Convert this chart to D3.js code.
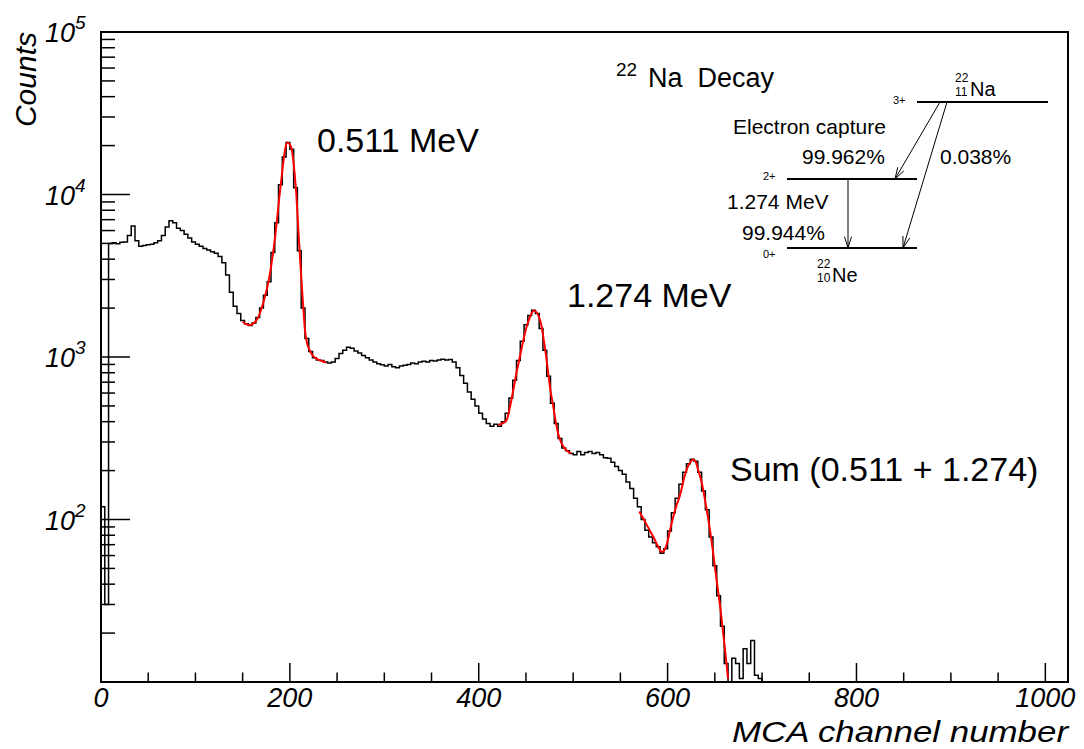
<!DOCTYPE html>
<html><head><meta charset="utf-8">
<script src="https://cdn.jsdelivr.net/npm/d3@7"></script>
<style>
body{margin:0;background:#fff}
svg{display:block}
text{font-family:"Liberation Sans",Arial,Helvetica,sans-serif;fill:#000}
</style></head>
<body><svg id="c" width="1084" height="749"></svg>
<script>
// ---------- data ----------
const binWidth = 4; // channels per bin, bins start at channel 0
const counts = [
  120, 30, 5000, 5050, 4980, 5080, 5100, 5600, 6400, 5200,
  4800, 4850, 4900, 4950, 5050, 5200, 5600, 6300, 6900, 6700,
  6200, 6000, 5700, 5400, 5100, 4950, 4800, 4650, 4550, 4450,
  4350, 4150, 3800, 3200, 2500, 2050, 1850, 1680, 1600, 1560,
  1620, 1750, 2000, 2400, 2900, 4400, 6700, 11500, 17000, 20900,
  19000, 11000, 4500, 2000, 1300, 1080, 990, 960, 950, 930,
  920, 930, 980, 1050, 1100, 1150, 1130, 1090, 1060, 1020,
  990, 960, 930, 910, 895, 880, 900, 870, 860, 880,
  890, 900, 920, 910, 930, 940, 930, 950, 945, 960,
  970, 960, 965, 930, 860, 770, 690, 610, 550, 500,
  450, 415, 390, 375, 385, 375, 400, 450, 560, 720,
  950, 1250, 1580, 1800, 1940, 1850, 1500, 1100, 760, 520,
  390, 315, 275, 265, 255, 250, 262, 250, 258, 262,
  255, 258, 250, 240, 238, 225, 212, 200, 190, 170,
  155, 135, 120, 100, 86, 78, 72, 68, 62, 66,
  85, 110, 135, 165, 195, 220, 235, 228, 195, 150,
  115, 78, 52, 34, 22, 13, 0, 14, 13, 10.5,
  16, 13, 18, 11, 10.5
];
// fitted curves (channel, counts)
const fit511Ch  = [150, 154, 158, 162, 166, 170, 174, 177, 181, 184, 187, 189, 192, 195, 197.5, 200, 202, 205, 207, 209, 211.6, 214, 216, 218, 221, 225, 230, 234, 238];
const fit511Val = [1650, 1590, 1575, 1620, 1730, 1990, 2400, 2840, 3900, 5250, 7600, 9800, 14000, 19000, 20900, 20300, 19000, 13500, 9700, 6000, 3430, 2100, 1470, 1230, 1100, 1010, 965, 945, 925];
const fit1274Ch  = [420.7, 425, 429.5, 433, 436.6, 440, 443.6, 447, 450.7, 454, 456, 458.5, 461, 463, 466, 468.3, 471, 473.6, 476, 479, 481.5, 484, 487, 491, 494.5, 498];
const fit1274Val = [382, 390, 409, 490, 626, 800, 1004, 1250, 1535, 1750, 1857, 1930, 1890, 1812, 1600, 1333, 1050, 794, 620, 494, 400, 339, 300, 274, 262, 255];
const fitSumCh  = [570, 574, 580, 585, 590, 594, 599, 603, 606, 610, 613, 617, 620, 624, 627, 630, 632, 636, 640, 644, 648, 652, 656, 660, 664];
const fitSumVal = [112, 102, 88, 78, 68, 63, 70, 88, 104, 125, 140, 175, 202, 225, 234, 225, 205, 170, 128, 93, 64, 42, 28, 17.5, 10.5];

const xMajorTicks = [0, 200, 400, 600, 800, 1000];
const xMinorStep = 50;
const yLabelExps = [2, 3, 4, 5];

// ---------- scales ----------
const L = 101, R = 1068, T = 32, B = 682;
const x = d3.scaleLinear().domain([0, 1024]).range([L, R]);
const y = d3.scaleLog().domain([10, 1e5]).range([B, T]);
const svg = d3.select('#c');

svg.append('defs').append('clipPath').attr('id', 'pc')
  .append('rect').attr('x', L).attr('y', T).attr('width', R - L).attr('height', B - T);

// ---------- histogram ----------
const yv = v => (v > 10 ? y(v) : B);
let p = `M${x(0)},${B}`;
counts.forEach((v, i) => {
  p += `L${x(i * binWidth)},${yv(v)}L${x((i + 1) * binWidth)},${yv(v)}`;
});
p += `L${x(counts.length * binWidth)},${B}`;
svg.append('path').attr('d', p).attr('fill', 'none').attr('stroke', '#000')
  .attr('stroke-width', 1.5).attr('clip-path', 'url(#pc)');

// ---------- fits ----------
const line = d3.line().x(d => x(d[0])).y(d => y(d[1])).curve(d3.curveMonotoneX);
[[fit511Ch, fit511Val], [fit1274Ch, fit1274Val], [fitSumCh, fitSumVal]].forEach(([c, v]) => {
  svg.append('path').attr('d', line(c.map((ch, i) => [ch, v[i]])))
    .attr('fill', 'none').attr('stroke', '#ff0000').attr('stroke-width', 2)
    .attr('clip-path', 'url(#pc)');
});

// ---------- axes ----------
const ax = svg.append('g').attr('stroke', '#000').attr('stroke-width', 1.5);
d3.range(0, 1024, xMinorStep).forEach(t => {
  const major = xMajorTicks.includes(t);
  ax.append('line').attr('x1', x(t)).attr('x2', x(t)).attr('y1', B).attr('y2', B - (major ? 19 : 9.5));
});
y.ticks().forEach(t => {
  const e = Math.log10(t);
  const major = Math.abs(e - Math.round(e)) < 1e-9;
  if (t <= 10 || t >= 1e5) return;
  ax.append('line').attr('x1', L).attr('x2', L + (major ? 29 : 14)).attr('y1', y(t)).attr('y2', y(t));
});
svg.append('rect').attr('x', L).attr('y', T).attr('width', R - L).attr('height', B - T)
  .attr('fill', 'none').attr('stroke', '#000').attr('stroke-width', 2);

// tick labels
xMajorTicks.forEach(t => {
  svg.append('text').attr('x', x(t)).attr('y', 707).attr('text-anchor', 'middle')
    .attr('font-size', 27).attr('font-style', 'italic').text(t);
});
yLabelExps.forEach(e => {
  const yy = y(Math.pow(10, e));
  svg.append('text').attr('x', 75).attr('y', yy + 10).attr('text-anchor', 'end')
    .attr('font-size', 27).attr('font-style', 'italic').text('10');
  svg.append('text').attr('x', 75).attr('y', yy - 3).attr('text-anchor', 'start')
    .attr('font-size', 19).attr('font-style', 'italic').text(e);
});
// axis titles
svg.append('text').attr('x', R).attr('y', 742).attr('text-anchor', 'end')
  .attr('font-size', 30).attr('font-style', 'italic')
  .attr('textLength', 336).attr('lengthAdjust', 'spacingAndGlyphs').text('MCA channel number');
svg.append('text').attr('transform', `translate(36,${T}) rotate(-90)`).attr('text-anchor', 'end')
  .attr('font-size', 30).attr('font-style', 'italic').text('Counts');

// ---------- annotations ----------
const ann = svg.append('g');
ann.append('text').attr('x', 317).attr('y', 152).attr('font-size', 34).text('0.511 MeV');
ann.append('text').attr('x', 567).attr('y', 307).attr('font-size', 34).text('1.274 MeV');
ann.append('text').attr('x', 730).attr('y', 481).attr('font-size', 34).text('Sum (0.511 + 1.274)');

ann.append('text').attr('x', 616).attr('y', 76).attr('font-size', 19).text('22');
ann.append('text').attr('x', 648).attr('y', 87).attr('font-size', 27).text('Na\u00a0\u00a0Decay');

// decay scheme
const lv = ann.append('g').attr('stroke', '#000').attr('stroke-width', 2);
lv.append('line').attr('x1', 917).attr('x2', 1048).attr('y1', 102).attr('y2', 102);
lv.append('line').attr('x1', 787).attr('x2', 917).attr('y1', 179).attr('y2', 179);
lv.append('line').attr('x1', 787).attr('x2', 917).attr('y1', 248).attr('y2', 248);

function arrow(x1, y1, x2, y2) {
  const g = ann.append('g').attr('stroke', '#000').attr('stroke-width', 1).attr('fill', 'none');
  g.append('line').attr('x1', x1).attr('y1', y1).attr('x2', x2).attr('y2', y2);
  const a = Math.atan2(y1 - y2, x1 - x2), len = 12, sp = 0.3;
  g.append('path').attr('d',
    `M${x2 + len * Math.cos(a + sp)},${y2 + len * Math.sin(a + sp)}L${x2},${y2}L${x2 + len * Math.cos(a - sp)},${y2 + len * Math.sin(a - sp)}`);
}
arrow(940, 102, 895, 179);
arrow(947, 102, 903, 248);
arrow(848, 179, 848, 248);

ann.append('text').attr('x', 893).attr('y', 104).attr('font-size', 11).text('3+');
ann.append('text').attr('x', 763).attr('y', 180).attr('font-size', 11).text('2+');
ann.append('text').attr('x', 763).attr('y', 258).attr('font-size', 11).text('0+');

ann.append('text').attr('x', 955).attr('y', 82).attr('font-size', 12).text('22');
ann.append('text').attr('x', 955).attr('y', 96).attr('font-size', 12).text('11');
ann.append('text').attr('x', 970).attr('y', 96).attr('font-size', 20).text('Na');

ann.append('text').attr('x', 817).attr('y', 268).attr('font-size', 12).text('22');
ann.append('text').attr('x', 817).attr('y', 282).attr('font-size', 12).text('10');
ann.append('text').attr('x', 832).attr('y', 282).attr('font-size', 20).text('Ne');

ann.append('text').attr('x', 733).attr('y', 134).attr('font-size', 21).text('Electron capture');
ann.append('text').attr('x', 802).attr('y', 164).attr('font-size', 21).text('99.962%');
ann.append('text').attr('x', 940).attr('y', 164).attr('font-size', 21).text('0.038%');
ann.append('text').attr('x', 727).attr('y', 209).attr('font-size', 21).text('1.274 MeV');
ann.append('text').attr('x', 742).attr('y', 240).attr('font-size', 21).text('99.944%');
</script></body></html>
